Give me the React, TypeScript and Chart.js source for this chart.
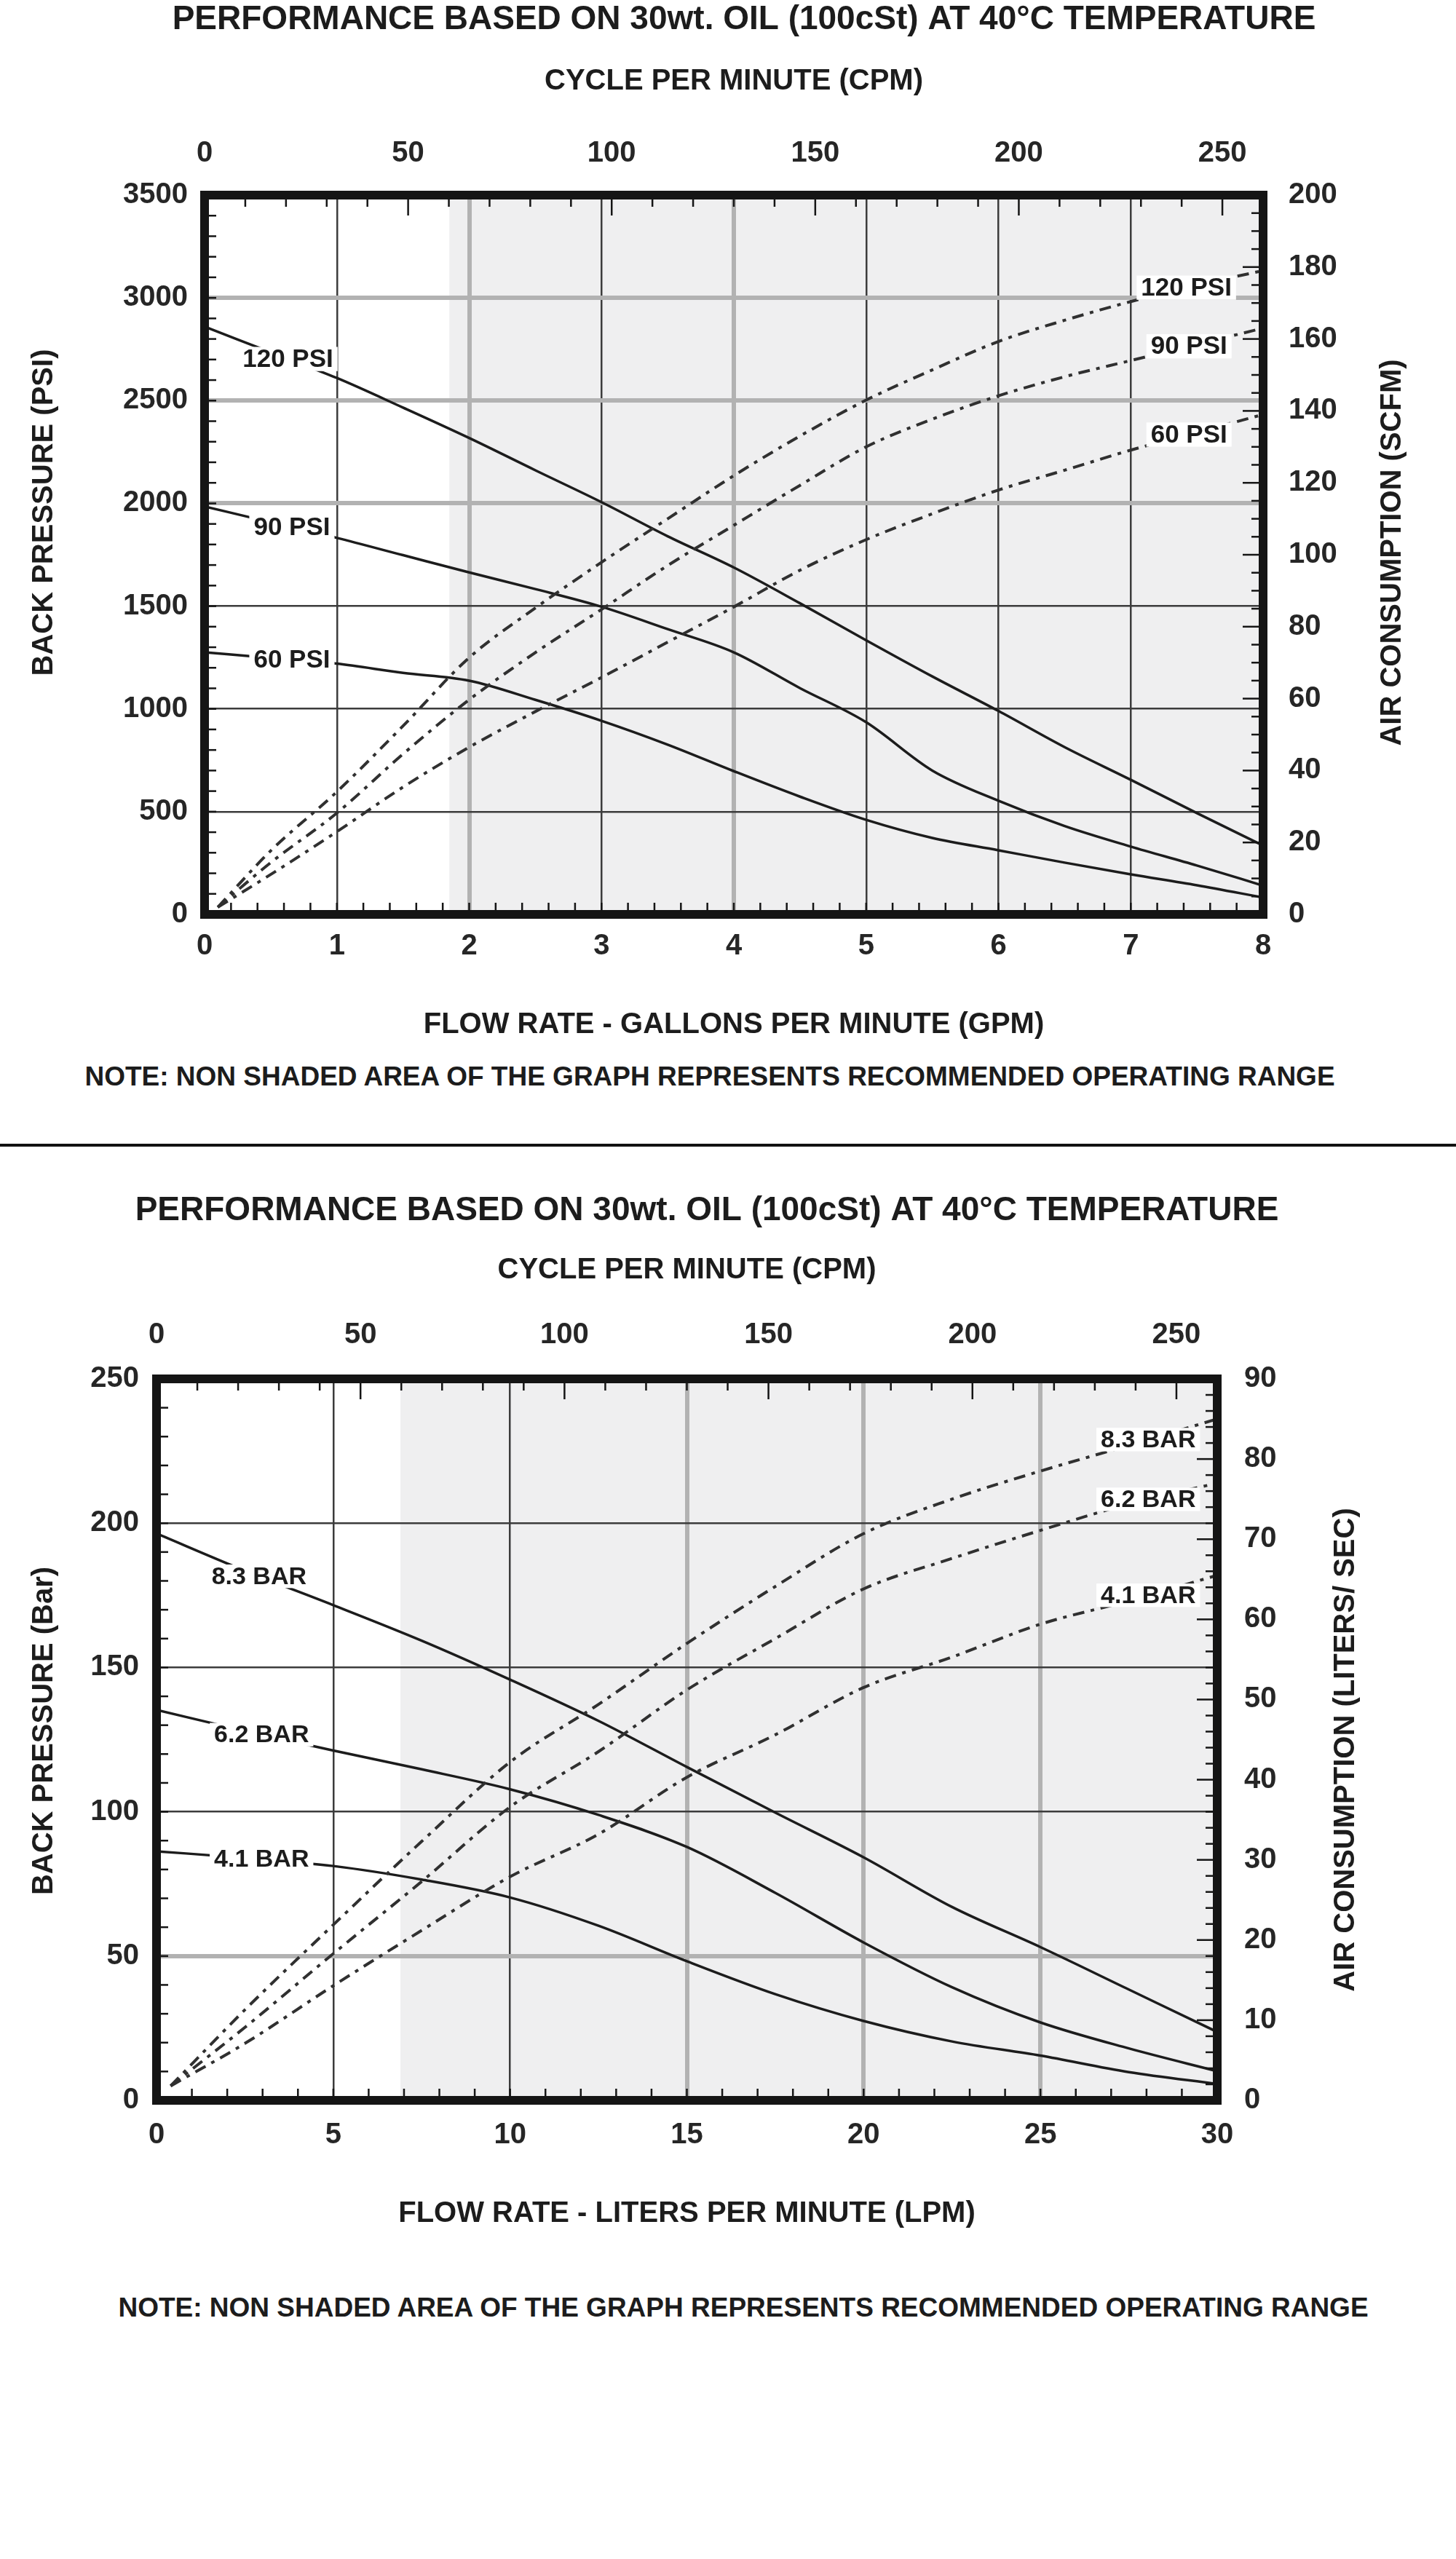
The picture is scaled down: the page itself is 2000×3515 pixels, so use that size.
import { useEffect, useRef } from "react";
import { Chart, registerables } from "chart.js";

Chart.register(...registerables);

const FONT = "'Liberation Sans', Arial, Helvetica, sans-serif";
const INK = "#1c1c1c";
const TICK_INK = "#262626";
const GRID_DARK = "#3c3c3c";
const GRID_LIGHT = "#b2b2b2";
const SHADE = "#efeff0";

// ---- panel 1 : US units (GPM / PSI / SCFM)
const GPM = [0, 0.5, 1, 1.5, 2, 2.5, 3, 3.5, 4, 4.5, 5, 5.5, 6, 6.5, 7, 7.5, 8];
const PSI_AT_120 = [2860, 2735, 2610, 2466, 2318, 2161, 2006, 1840, 1688, 1514, 1334, 1158, 990, 814, 655, 493, 335];
const PSI_AT_90 = [1985, 1908, 1832, 1748, 1664, 1583, 1497, 1388, 1275, 1101, 935, 700, 553, 430, 330, 238, 140];
const PSI_AT_60 = [1275, 1248, 1220, 1175, 1137, 1044, 942, 826, 697, 573, 460, 372, 312, 252, 195, 142, 82];
const GPM_AIR = [0.1, 0.5, 1, 1.5, 2, 2.5, 3, 3.5, 4, 4.5, 5, 5.5, 6, 6.5, 7, 7.5, 8];
const SCFM_AT_120 = [2, 17.7, 34.1, 52.4, 71.4, 85.2, 97.9, 110, 122, 133, 143, 151.4, 159.3, 165.2, 170.4, 175, 179];
const SCFM_AT_90 = [2, 14.4, 28.2, 44.6, 59.7, 72.8, 84.8, 97, 108.2, 119.3, 130, 137.7, 144.2, 149.5, 154, 158.5, 163];
const SCFM_AT_60 = [2, 11.1, 23, 35.4, 46.5, 56.4, 65.9, 75.7, 85.5, 95.7, 104.2, 111.4, 118, 123.5, 129.1, 134, 139];
const GPM_SHADE_FROM = 1.85;

// ---- panel 2 : metric units (LPM / Bar / L/s)
const LPM = [0, 2.5, 5, 7.5, 10, 12.5, 15, 17.5, 20, 22.5, 25, 27.5, 30];
const BAR_AT_83 = [196.4, 183.5, 171.6, 159.3, 145.8, 131.5, 115.5, 99.7, 84.2, 67, 53.1, 38.4, 23.7];
const BAR_AT_62 = [135.3, 128, 121.2, 114.7, 107.8, 98.9, 87.8, 71.9, 54.7, 39.2, 27, 18, 10.1];
const BAR_AT_41 = [86.3, 84, 81.2, 76.5, 70.3, 60.5, 48.2, 36.8, 27.5, 20.4, 15.5, 9.8, 5.7];
const LPM_AIR = [0.4, 2.5, 5, 7.5, 10, 12.5, 15, 17.5, 20, 22.5, 25, 27.5, 30];
const LPS_AT_83 = [1.8, 11.3, 21.9, 32.3, 42.2, 49.4, 57, 64.1, 70.7, 75, 78.5, 81.7, 85];
const LPS_AT_62 = [1.8, 9.1, 18.3, 27.3, 36.6, 43.5, 51.2, 57.6, 63.8, 67.6, 71.1, 74.4, 77];
const LPS_AT_41 = [1.8, 7.1, 14.3, 21.2, 27.9, 33.2, 40.3, 45.6, 51.5, 55.3, 59.4, 62.3, 65.5];
const LPM_SHADE_FROM = 6.9;

// cycle rate axis (top of both panels)
const CPM_MAX = 260;
const CPM_STEP = 50;

const TITLE = "PERFORMANCE BASED ON 30wt. OIL (100cSt) AT 40°C TEMPERATURE";
const NOTE = "NOTE: NON SHADED AREA OF THE GRAPH REPRESENTS RECOMMENDED OPERATING RANGE";

type Curve = { x: number[]; y: number[] };
type Tag = { text: string; at: number; curve: Curve; axis: "y" | "y2" };

const p120: Curve = { x: GPM, y: PSI_AT_120 };
const p90: Curve = { x: GPM, y: PSI_AT_90 };
const p60: Curve = { x: GPM, y: PSI_AT_60 };
const a120: Curve = { x: GPM_AIR, y: SCFM_AT_120 };
const a90: Curve = { x: GPM_AIR, y: SCFM_AT_90 };
const a60: Curve = { x: GPM_AIR, y: SCFM_AT_60 };

const b83: Curve = { x: LPM, y: BAR_AT_83 };
const b62: Curve = { x: LPM, y: BAR_AT_62 };
const b41: Curve = { x: LPM, y: BAR_AT_41 };
const l83: Curve = { x: LPM_AIR, y: LPS_AT_83 };
const l62: Curve = { x: LPM_AIR, y: LPS_AT_62 };
const l41: Curve = { x: LPM_AIR, y: LPS_AT_41 };

const PANEL_US = {
  top: 0,
  height: 1432,
  padL: 44,
  padR: 0,
  leftW: 237,
  rightW: 265,
  topH: 212.8,
  bottomH: 176,
  pad: { left: 23, right: 35, top: 33, bottom: 20 },
  topTitlePad: 32.8,
  xMax: 8,
  xStep: 1,
  xMinor: 0.2,
  xGray: [2, 4],
  yMax: 3500,
  yStep: 500,
  yMinor: 100,
  yGray: [2000, 2500, 3000],
  y2Max: 200,
  y2Step: 20,
  y2Minor: 5,
  shadeFrom: GPM_SHADE_FROM,
  pressure: [p120, p90, p60],
  air: [a120, a90, a60],
  tagSize: 35,
  tags: [
    { text: "120 PSI", at: 0.63, curve: p120, axis: "y" },
    { text: "90 PSI", at: 0.66, curve: p90, axis: "y" },
    { text: "60 PSI", at: 0.66, curve: p60, axis: "y" },
    { text: "120 PSI", at: 7.42, curve: a120, axis: "y2" },
    { text: "90 PSI", at: 7.44, curve: a90, axis: "y2" },
    { text: "60 PSI", at: 7.44, curve: a60, axis: "y2" },
  ] as Tag[],
  bottomTitle: "FLOW RATE - GALLONS PER MINUTE (GPM)",
  leftTitle: "BACK PRESSURE (PSI)",
  rightTitle: "AIR CONSUMPTION (SCFM)",
  leftTitlePos: { off: 220, dy: -58 },
  rightTitlePos: { off: 178, dy: -3 },
};

const PANEL_METRIC = {
  top: 1636,
  height: 1429,
  padL: 0,
  padR: 58,
  leftW: 215,
  rightW: 270,
  topH: 202.8,
  bottomH: 180,
  pad: { left: 24, right: 37, top: 36, bottom: 24 },
  topTitlePad: 29.8,
  xMax: 30,
  xStep: 5,
  xMinor: 1,
  xGray: [15, 20, 25],
  yMax: 250,
  yStep: 50,
  yMinor: 10,
  yGray: [50],
  y2Max: 90,
  y2Step: 10,
  y2Minor: 2,
  shadeFrom: LPM_SHADE_FROM,
  pressure: [b83, b62, b41],
  air: [l83, l62, l41],
  tagSize: 34,
  tags: [
    { text: "8.3 BAR", at: 2.9, curve: b83, axis: "y" },
    { text: "6.2 BAR", at: 2.97, curve: b62, axis: "y" },
    { text: "4.1 BAR", at: 2.97, curve: b41, axis: "y" },
    { text: "8.3 BAR", at: 28.05, curve: l83, axis: "y2" },
    { text: "6.2 BAR", at: 28.05, curve: l62, axis: "y2" },
    { text: "4.1 BAR", at: 28.05, curve: l41, axis: "y2" },
  ] as Tag[],
  bottomTitle: "FLOW RATE - LITERS PER MINUTE (LPM)",
  leftTitle: "BACK PRESSURE (Bar)",
  rightTitle: "AIR CONSUMPTION (LITERS/ SEC)",
  leftTitlePos: { off: 154, dy: -12 },
  rightTitlePos: { off: 177, dy: 14 },
};

type PanelSpec = typeof PANEL_US;

function pairs(xs: number[], ys: number[]) {
  return xs.map((x, i) => ({ x, y: ys[i] }));
}

function interp(c: Curve, x: number) {
  for (let i = 1; i < c.x.length; i++) {
    if (x <= c.x[i]) {
      const t = (x - c.x[i - 1]) / (c.x[i] - c.x[i - 1]);
      return c.y[i - 1] + t * (c.y[i] - c.y[i - 1]);
    }
  }
  return c.y[c.y.length - 1];
}

function isOn(list: number[], v: number) {
  return list.some((g) => Math.abs(g - v) < 1e-6);
}

// plain numbers, no thousands separator
const plain = (v: any) => String(v);

// small inward ticks along one side of the frame
function edgeTicks(ctx: CanvasRenderingContext2D, a: any, scale: any, max: number, step: number, major: number, edge: string) {
  const n = Math.round(max / step);
  for (let i = 1; i <= n; i++) {
    const v = i * step;
    if (v >= max - 1e-6) break;
    const len = major && Math.abs(v / major - Math.round(v / major)) < 1e-6 ? 28 : 16;
    const p = scale.getPixelForValue(v);
    ctx.beginPath();
    if (edge === "left") {
      ctx.moveTo(a.left, p);
      ctx.lineTo(a.left + len, p);
    } else if (edge === "right") {
      ctx.moveTo(a.right - len, p);
      ctx.lineTo(a.right, p);
    } else if (edge === "top") {
      ctx.moveTo(p, a.top);
      ctx.lineTo(p, a.top + len);
    } else {
      ctx.moveTo(p, a.bottom - len);
      ctx.lineTo(p, a.bottom);
    }
    ctx.stroke();
  }
}

function Panel({ spec }: { spec: PanelSpec }) {
  const canvasRef = useRef<HTMLCanvasElement | null>(null);
  const chartRef = useRef<Chart | null>(null);

  useEffect(() => {
    const canvas = canvasRef.current;
    if (!canvas) return;
    const ctx = canvas.getContext("2d");
    if (!ctx) return;
    if (chartRef.current) chartRef.current.destroy();

    const s = spec;
    const tickFont = { family: FONT, size: 40, weight: "bold" as const };
    const titleFont = { family: FONT, size: 40, weight: "bold" as const };

    const datasets: any[] = [
      ...s.air.map((c) => ({
        data: pairs(c.x, c.y),
        yAxisID: "y2",
        borderColor: "#303030",
        borderWidth: 4,
        borderDash: [16, 9, 5, 9],
        pointRadius: 0,
        cubicInterpolationMode: "monotone",
        fill: false,
      })),
      ...s.pressure.map((c) => ({
        data: pairs(c.x, c.y),
        yAxisID: "y",
        borderColor: INK,
        borderWidth: 3.5,
        pointRadius: 0,
        cubicInterpolationMode: "monotone",
        fill: false,
      })),
    ];

    const shadePlugin = {
      id: "shade",
      beforeDraw(chart: any) {
        const { ctx: c, chartArea: a, scales } = chart;
        const x0 = scales.x.getPixelForValue(s.shadeFrom);
        c.save();
        c.fillStyle = SHADE;
        c.fillRect(x0, a.top, a.right - x0, a.bottom - a.top);
        c.restore();
      },
    };

    const tagPlugin = {
      id: "tags",
      afterDatasetsDraw(chart: any) {
        const { ctx: c, scales } = chart;
        c.save();
        c.font = `bold ${s.tagSize}px ${FONT}`;
        c.textAlign = "center";
        c.textBaseline = "middle";
        for (const t of s.tags) {
          const px = scales.x.getPixelForValue(t.at);
          const py = scales[t.axis].getPixelForValue(interp(t.curve, t.at));
          const w = c.measureText(t.text).width + 12;
          const h = s.tagSize * 0.95;
          c.fillStyle = "#ffffff";
          c.fillRect(px - w / 2, py - h / 2, w, h);
          c.fillStyle = INK;
          c.fillText(t.text, px, py + 1);
        }
        c.restore();
      },
    };

    const framePlugin = {
      id: "frame",
      afterDraw(chart: any) {
        const { ctx: c, chartArea: a, scales } = chart;
        c.save();
        c.strokeStyle = "#151515";
        c.lineWidth = 2.5;
        edgeTicks(c, a, scales.y, s.yMax, s.yMinor, 0, "left");
        edgeTicks(c, a, scales.y2, s.y2Max, s.y2Minor, s.y2Step, "right");
        edgeTicks(c, a, scales.x2, CPM_MAX, 10, CPM_STEP, "top");
        edgeTicks(c, a, scales.x, s.xMax, s.xMinor, 0, "bottom");
        c.lineWidth = 12;
        c.lineJoin = "miter";
        c.strokeRect(a.left, a.top, a.right - a.left, a.bottom - a.top);

        // side titles, both reading bottom to top
        c.fillStyle = INK;
        c.font = `bold 40px ${FONT}`;
        c.textAlign = "center";
        c.textBaseline = "middle";
        const midY = (a.top + a.bottom) / 2;
        c.save();
        c.translate(a.left - s.leftTitlePos.off, midY + s.leftTitlePos.dy);
        c.rotate(-Math.PI / 2);
        c.fillText(s.leftTitle, 0, 0);
        c.restore();
        c.save();
        c.translate(a.right + s.rightTitlePos.off, midY + s.rightTitlePos.dy);
        c.rotate(-Math.PI / 2);
        c.fillText(s.rightTitle, 0, 0);
        c.restore();
        c.restore();
      },
    };

    chartRef.current = new Chart(ctx, {
      type: "line",
      data: { datasets },
      options: {
        animation: false,
        responsive: false,
        events: [],
        layout: { padding: { left: s.padL, right: s.padR, top: 0, bottom: 0 } },
        plugins: {
          legend: { display: false },
          tooltip: { enabled: false },
          title: {
            display: true,
            text: TITLE,
            color: INK,
            font: { family: FONT, size: 46, weight: "bold" },
            padding: { top: 0, bottom: 0 },
          },
        },
        scales: {
          x: {
            type: "linear",
            position: "bottom",
            min: 0,
            max: s.xMax,
            ticks: { stepSize: s.xStep, padding: s.pad.bottom, color: TICK_INK, font: tickFont, callback: plain },
            grid: {
              drawTicks: false,
              color: (c: any) => (c.tick && isOn(s.xGray, c.tick.value) ? GRID_LIGHT : GRID_DARK),
              lineWidth: (c: any) => (c.tick && isOn(s.xGray, c.tick.value) ? 6 : 2.5),
            },
            border: { display: false },
            title: { display: true, text: s.bottomTitle, color: INK, font: titleFont, padding: { top: 0, bottom: 0 } },
            afterFit: (sc: any) => {
              sc.height = s.bottomH;
            },
          },
          x2: {
            type: "linear",
            position: "top",
            min: 0,
            max: CPM_MAX,
            ticks: {
              stepSize: CPM_STEP,
              includeBounds: false,
              padding: s.pad.top,
              color: TICK_INK,
              font: tickFont,
              callback: plain,
            },
            grid: { display: false, drawTicks: false },
            border: { display: false },
            title: {
              display: true,
              text: "CYCLE PER MINUTE (CPM)",
              color: INK,
              font: titleFont,
              padding: { top: s.topTitlePad, bottom: 0 },
            },
            afterFit: (sc: any) => {
              sc.height = s.topH;
            },
          },
          y: {
            type: "linear",
            position: "left",
            min: 0,
            max: s.yMax,
            ticks: { stepSize: s.yStep, padding: s.pad.left, color: TICK_INK, font: tickFont, callback: plain },
            grid: {
              drawTicks: false,
              color: (c: any) => (c.tick && isOn(s.yGray, c.tick.value) ? GRID_LIGHT : GRID_DARK),
              lineWidth: (c: any) => (c.tick && isOn(s.yGray, c.tick.value) ? 6 : 2.5),
            },
            border: { display: false },
            afterFit: (sc: any) => {
              sc.width = s.leftW;
            },
          },
          y2: {
            type: "linear",
            position: "right",
            min: 0,
            max: s.y2Max,
            ticks: { stepSize: s.y2Step, padding: s.pad.right, color: TICK_INK, font: tickFont, callback: plain },
            grid: { display: false, drawTicks: false },
            border: { display: false },
            afterFit: (sc: any) => {
              sc.width = s.rightW;
            },
          },
        },
      } as any,
      plugins: [shadePlugin, tagPlugin, framePlugin],
    });

    return () => {
      if (chartRef.current) {
        chartRef.current.destroy();
        chartRef.current = null;
      }
    };
  }, [spec]);

  return (
    <canvas
      ref={canvasRef}
      width={2000}
      height={spec.height}
      style={{ position: "absolute", left: 0, top: spec.top, display: "block" }}
    />
  );
}

const noteStyle = {
  position: "absolute" as const,
  height: 44,
  lineHeight: "44px",
  textAlign: "center" as const,
  font: `bold 37px ${FONT}`,
  color: INK,
  whiteSpace: "nowrap" as const,
};

export default function App() {
  return (
    <div
      style={{
        position: "absolute",
        left: 0,
        top: 0,
        width: 2000,
        height: 3515,
        overflow: "hidden",
        background: "#ffffff",
      }}
    >
      <Panel spec={PANEL_US} />
      <div style={{ ...noteStyle, left: 0, width: 1950, top: 1458 }}>{NOTE}</div>
      <div style={{ position: "absolute", left: 0, width: 2000, top: 1571, height: 4, background: "#111" }} />
      <Panel spec={PANEL_METRIC} />
      <div style={{ ...noteStyle, left: 42, width: 1958, top: 3149 }}>{NOTE}</div>
    </div>
  );
}
